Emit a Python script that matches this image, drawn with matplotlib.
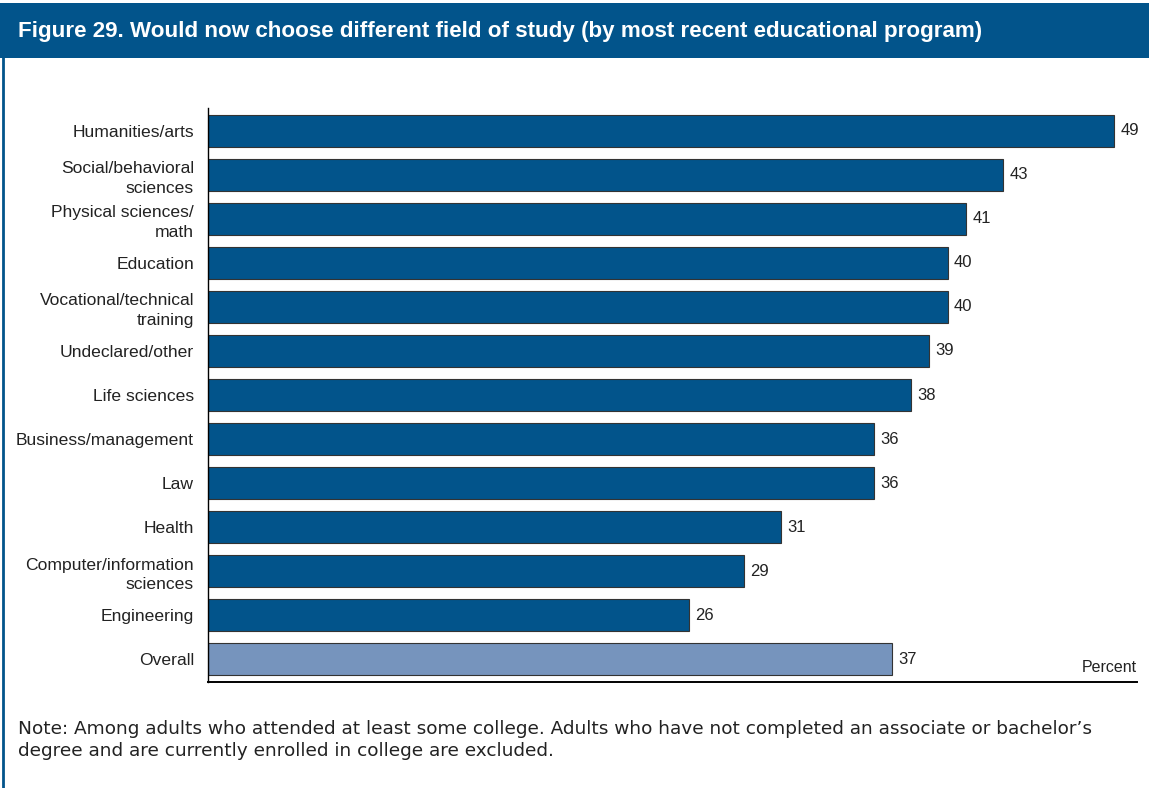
import matplotlib.pyplot as plt
from matplotlib.patches import Rectangle
from matplotlib.lines import Line2D

categories = ["Humanities/arts", "Social/behavioral\nsciences", "Physical sciences/\nmath",
              "Education", "Vocational/technical\ntraining", "Undeclared/other",
              "Life sciences", "Business/management", "Law", "Health",
              "Computer/information\nsciences", "Engineering", "Overall"]
values = [49, 43, 41, 40, 40, 39, 38, 36, 36, 31, 29, 26, 37]

title = "Figure 29. Would now choose different field of study (by most recent educational program)"
note = ("Note: Among adults who attended at least some college. Adults who have not completed an associate or bachelor\u2019s\n"
        "degree and are currently enrolled in college are excluded.")

navy = "#02548b"
light = "#7694bd"
sans = ["Liberation Sans", "DejaVu Sans"]

W, H = 1149, 788
fig = plt.figure(figsize=(W / 100, H / 100), dpi=100)

# header banner and left frame line
fig.patches.append(Rectangle((0, 1 - 58 / H), 1, 55 / H, transform=fig.transFigure,
                             facecolor=navy, edgecolor="none"))
fig.text(18 / W, 1 - 31 / H, title, color="white", fontsize=16.1, fontweight="bold",
         family=sans, va="center", ha="left")
fig.lines.append(Line2D([2.5 / W, 2.5 / W], [0, 1 - 58 / H], transform=fig.transFigure,
                        color=navy, lw=2))

ax = fig.add_axes([208 / W, 1 - 682 / H, (1137 - 208) / W, (682 - 108) / H])
ypos = list(range(len(categories)))
colors = [navy] * (len(categories) - 1) + [light]
ax.barh(ypos, values, height=0.73, color=colors, edgecolor="#333333", linewidth=0.8)
for y, v in zip(ypos, values):
    ax.text(v + 0.35, y, str(v), va="center", ha="left", fontsize=12, family=sans,
            color="#222222")

ax.set_xlim(0, 50.25)
ax.set_ylim(12.52, -0.52)
ax.set_yticks(ypos)
ax.set_yticklabels(categories, fontsize=12.6, family=sans, color="#222222",
                   linespacing=1.4)
ax.tick_params(axis="y", length=0, pad=10)
ax.set_xticks([])
for s in ["top", "right"]:
    ax.spines[s].set_visible(False)
ax.spines["left"].set_linewidth(1.0)
ax.spines["bottom"].set_linewidth(1.4)
ax.text(1.0, 0.012, "Percent", transform=ax.transAxes, ha="right", va="bottom",
        fontsize=11.5, family=sans, color="#222222")

fig.text(18 / W, 1 - 720 / H, note, fontsize=13.3, family="DejaVu Sans",
         color="#222222", va="top", ha="left", linespacing=1.3)

fig.savefig("out.png", dpi=100)
